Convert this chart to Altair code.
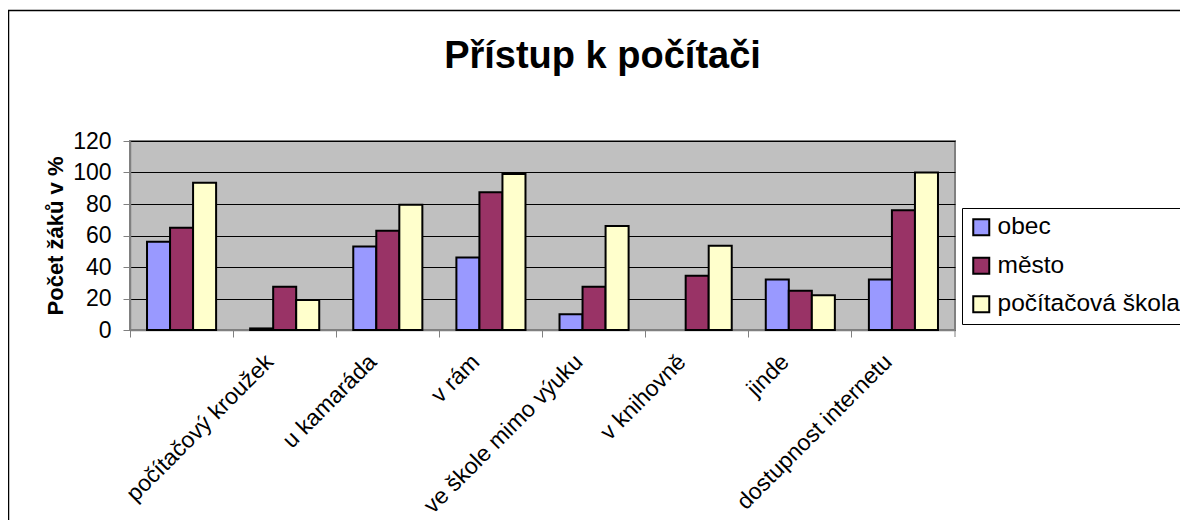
import altair as alt
import pandas as pd

# ---- data ----
categories = [" ", "počítačový kroužek", "u kamaráda", "v rám", "ve škole mimo výuku",
              "v knihovně", "jinde", "dostupnost internetu"]
series = ["obec", "město", "počítačová škola"]
obec = [56, 1, 53, 46, 10, None, 32, 32]
mesto = [65, 27.5, 63, 87.5, 27.5, 34.5, 25, 76]
skola = [93.5, 19, 79.5, 99, 66, 53.5, 22, 100]
colors = ["#9999FF", "#993366", "#FFFFCC"]
y_ticks = [0, 20, 40, 60, 80, 100, 120]

rows = []
for name, vals in zip(series, [obec, mesto, skola]):
    for cat, v in zip(categories, vals):
        if v is not None:
            rows.append({"kategorie": cat, "rada": name, "hodnota": v})
df = pd.DataFrame(rows)

FONT = "Liberation Sans"
W, H = 825, 189

bars = alt.Chart(df).mark_bar(stroke="black", strokeWidth=2).encode(
    x=alt.X("kategorie:N", sort=categories,
            scale=alt.Scale(paddingInner=0, paddingOuter=0),
            axis=alt.Axis(title=None, labelAngle=-45, labelAlign="right",
                          labelBaseline="middle", labelFontSize=23, labelFont=FONT,
                          labelColor="black", labelPadding=21, labelOffset=-15,
                          bandPosition=0, tickSize=7, tickColor="#808080",
                          domainColor="#808080", domainWidth=1.5, grid=False,
                          labelOverlap=False, labelLimit=400)),
    xOffset=alt.XOffset("rada:N", sort=series,
                        scale=alt.Scale(paddingInner=0, paddingOuter=0.739)),
    y=alt.Y("hodnota:Q", scale=alt.Scale(domain=[0, 120], nice=False),
            axis=alt.Axis(values=y_ticks, title="Počet žáků v %", titleFont=FONT,
                          titleFontSize=22, titleFontWeight="bold", titleColor="black",
                          titleBaseline="alphabetic", titleX=-68,
                          labelFont=FONT, labelFontSize=23, labelColor="black",
                          labelPadding=12, tickSize=7, tickColor="#808080",
                          domainColor="#808080", domainWidth=1.5,
                          grid=True, gridColor="black", gridWidth=1)),
    color=alt.Color("rada:N", sort=series,
                    scale=alt.Scale(domain=series, range=colors),
                    legend=alt.Legend(title=None, orient="none", legendX=832, legendY=67,
                                      symbolType="square", symbolSize=256,
                                      symbolStrokeColor="black", symbolStrokeWidth=2,
                                      symbolOpacity=1,
                                      labelFont=FONT, labelFontSize=24.5, labelColor="black",
                                      labelOffset=4, rowPadding=12.5, padding=7,
                                      strokeColor="black", fillColor="white",
                                      labelLimit=400)),
)

frame_df = pd.DataFrame({"f": [0]})
frame = alt.Chart(frame_df).mark_rect(filled=False, stroke="black", strokeWidth=1.5).encode(
    x=alt.value(-121.5), x2=alt.value(1200), y=alt.value(-130.5), y2=alt.value(600)
)
end_tick = alt.Chart(frame_df).mark_rule(color="#808080", strokeWidth=1).encode(
    x=alt.value(W), y=alt.value(H), y2=alt.value(H + 7)
)

chart = alt.layer(frame, bars, end_tick).properties(
    width=W, height=H,
    title=alt.TitleParams("Přístup k počítači", font=FONT, fontSize=38, fontWeight="bold",
                          color="black", anchor="middle", baseline="alphabetic",
                          frame="group", dx=60, dy=96, offset=0),
    autosize=alt.AutoSizeParams(type="none"),
    padding={"left": 122, "top": 133, "right": 225, "bottom": 190},
    background="white",
).configure_view(
    fill="#C0C0C0", stroke="#808080", strokeWidth=2
)

chart.save("out.html", embed_options={"renderer": "svg", "actions": False})
